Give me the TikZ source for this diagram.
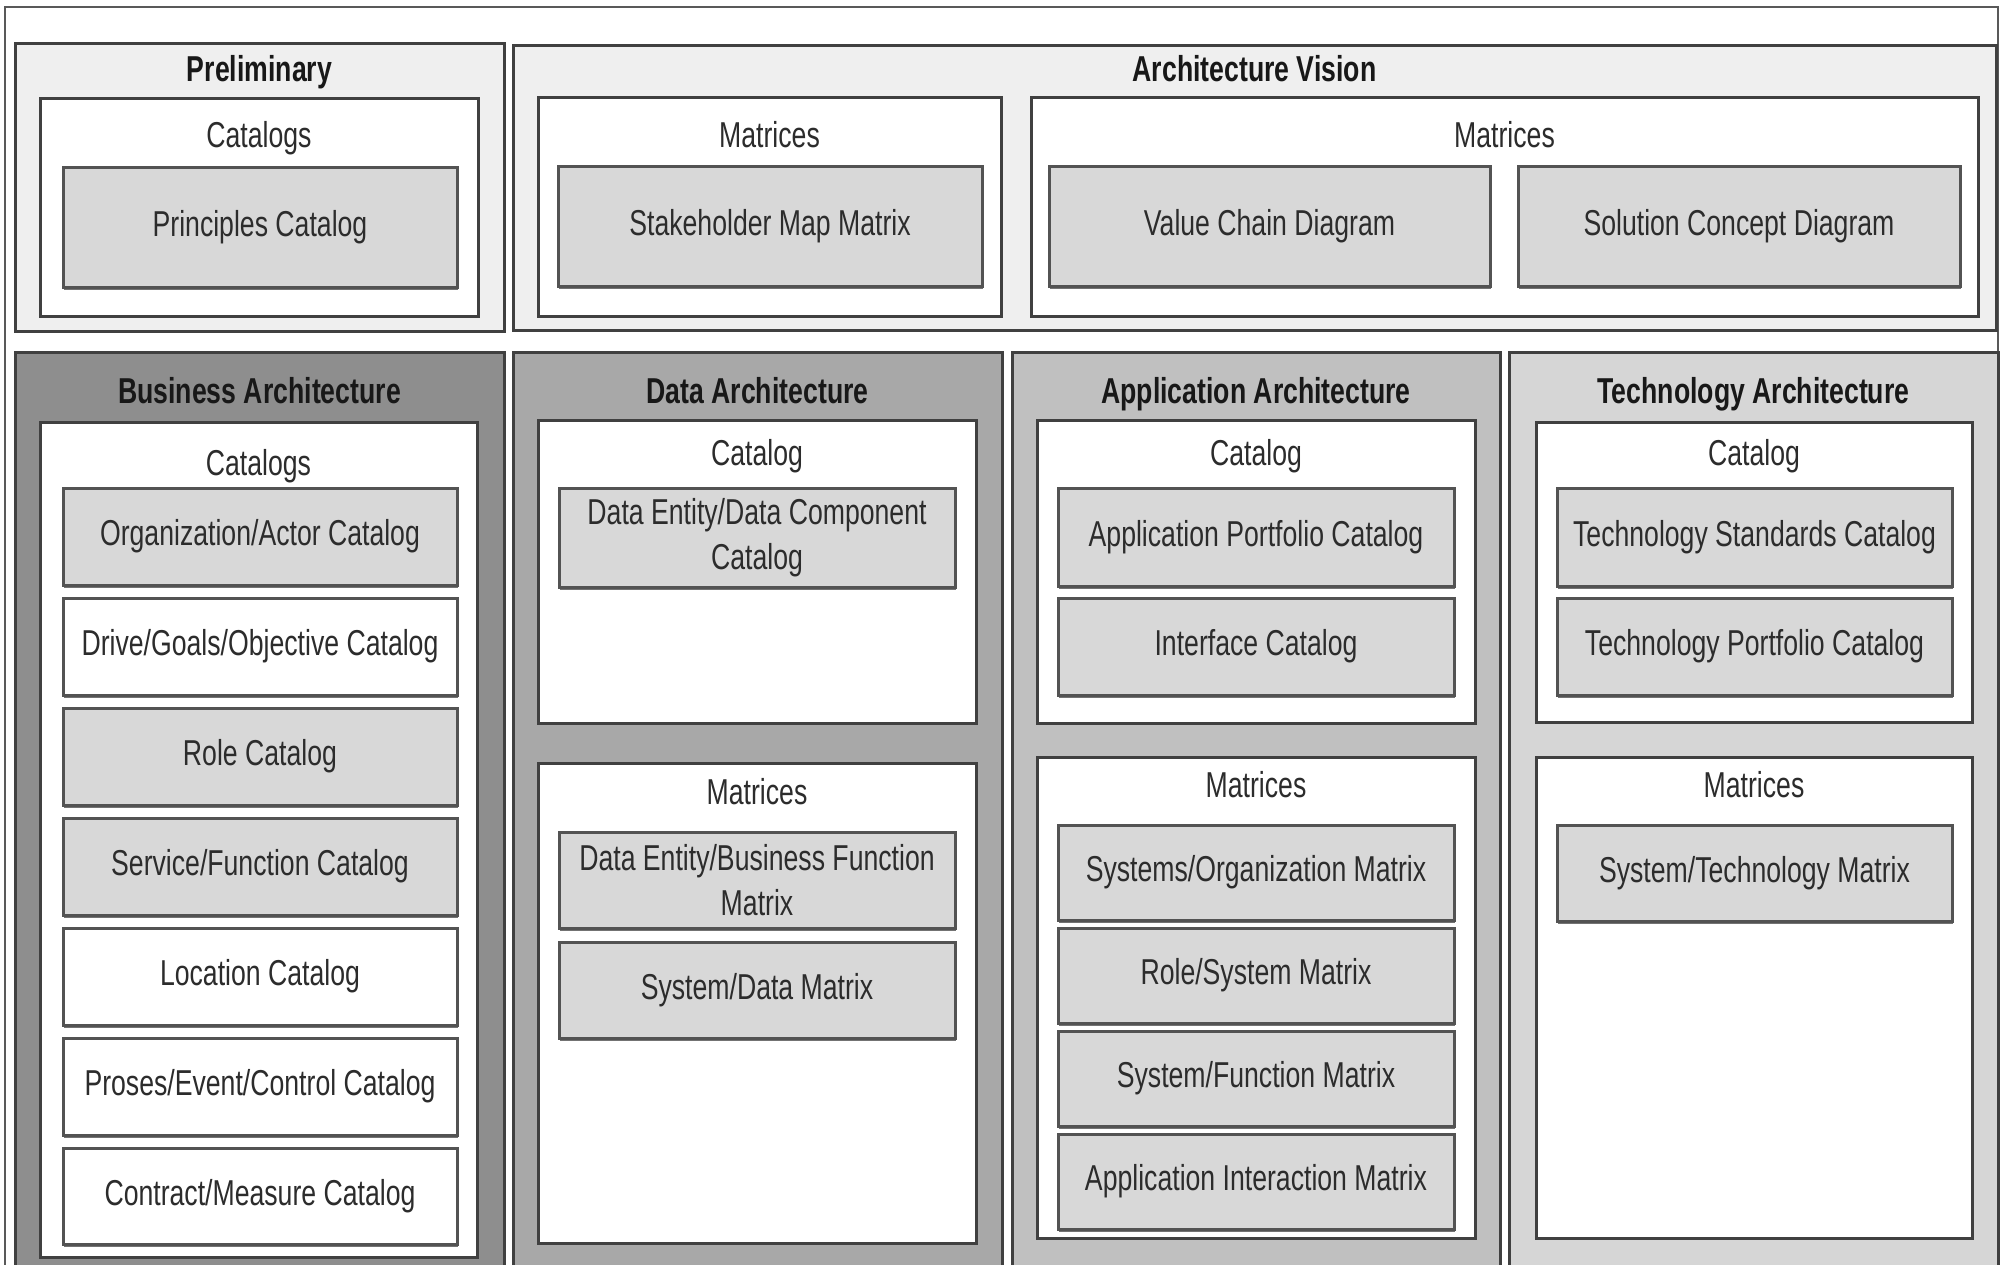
\documentclass[tikz,border=0pt]{standalone}
\usepackage{fontspec}
\setmainfont{Liberation Sans}[FakeStretch=0.74]
\usetikzlibrary{shadows}
\definecolor{edge}{HTML}{404040}
\definecolor{txt}{HTML}{2C2C2C}
\definecolor{headtxt}{HTML}{181818}
\definecolor{itemgray}{HTML}{D8D8D8}
\definecolor{lightpanel}{HTML}{EFEFEF}
\definecolor{busfill}{HTML}{8E8E8E}
\definecolor{datafill}{HTML}{A8A8A8}
\definecolor{appfill}{HTML}{C0C0C0}
\definecolor{techfill}{HTML}{D6D6D6}
\newcommand\itemfont{\fontsize{36}{45}\selectfont}
\newcommand\headfont{\fontsize{36}{45}\selectfont\bfseries}
\newcommand\rbox[7]{\node[#1, minimum width={#5-#3}, minimum height={#6-#4}] (#2) at ({(#3+#5)/2},{(#4+#6)/2}) {#7};}
\tikzset{
  frame/.style={draw=edge, line width=3pt, inner sep=0pt, rectangle},
  panel/.style={frame, fill=#1},
  wbox/.style={frame, fill=white},
  item/.style={frame, draw=edge!90, fill=itemgray, text=txt, font=\itemfont, align=center,
    drop shadow={shadow xshift=0.5pt, shadow yshift=-3pt, fill=black!55, opacity=1}},
  witem/.style={item, fill=white},
  lbl/.style={text=txt, font=\itemfont, inner sep=0pt, text height=26pt, text depth=0pt},
  head/.style={text=headtxt, font=\headfont, inner sep=0pt, text height=26pt, text depth=0pt},
}
\begin{document}
\begin{tikzpicture}[x=1pt,y=-1pt]
\path[use as bounding box, clip] (0,0) rectangle (2005,1264);
\fill[white] (0,0) rectangle (2005,1264);
% outer frame
\rbox{frame, draw=black!65, line width=2.5pt, fill=white}{outer}{5}{7}{1998}{1320}{}
% Preliminary
\rbox{panel=lightpanel}{prelim}{15}{43}{504}{331}{}
\node[head] (prelimT) at (259.5,68) {Preliminary};
\rbox{wbox}{prelimCat}{40}{98}{478}{316}{}
\node[lbl] (prelimCatT) at (259,134) {Catalogs};
\rbox{item}{principles}{63}{167}{457}{287}{Principles Catalog}
% Architecture Vision
\rbox{panel=lightpanel}{vision}{513}{45}{1996}{330}{}
\node[head] (visionT) at (1254.5,68) {Architecture Vision};
\rbox{wbox}{visMatA}{538}{97}{1001}{316}{}
\node[lbl] (visMatAT) at (769.5,134) {Matrices};
\rbox{item}{stakeholder}{558}{166}{982}{286}{Stakeholder Map Matrix}
\rbox{wbox}{visMatB}{1031}{97}{1978}{316}{}
\node[lbl] (visMatBT) at (1504.5,134) {Matrices};
\rbox{item}{valuechain}{1049}{166}{1490}{286}{Value Chain Diagram}
\rbox{item}{solution}{1518}{166}{1960}{286}{Solution Concept Diagram}
% Business Architecture
\rbox{panel=busfill}{bus}{15}{352}{504}{1320}{}
\node[head] (busT) at (259.5,390) {Business Architecture};
\rbox{wbox}{busCat}{40}{422}{477}{1257}{}
\node[lbl] (busCatT) at (258.5,462) {Catalogs};
\rbox{item}{org}{63}{488}{457}{585}{Organization/Actor Catalog}
\rbox{witem}{drive}{63}{598}{457}{695}{Drive/Goals/Objective Catalog}
\rbox{item}{role}{63}{708}{457}{805}{Role Catalog}
\rbox{item}{service}{63}{818}{457}{915}{Service/Function Catalog}
\rbox{witem}{location}{63}{928}{457}{1025}{Location Catalog}
\rbox{witem}{proses}{63}{1038}{457}{1135}{Proses/Event/Control Catalog}
\rbox{witem}{contract}{63}{1148}{457}{1244}{Contract/Measure Catalog}
% Data Architecture
\rbox{panel=datafill}{data}{513}{352}{1002}{1320}{}
\node[head] (dataT) at (757.5,390) {Data Architecture};
\rbox{wbox}{dataCat}{538}{420}{976}{723}{}
\node[lbl] (dataCatT) at (757,452) {Catalog};
\rbox{item}{dataentity}{559}{488}{955}{587}{Data Entity/Data Component\\Catalog}
\rbox{wbox}{dataMat}{538}{763}{976}{1243}{}
\node[lbl] (dataMatT) at (757,791) {Matrices};
\rbox{item}{debf}{559}{832}{955}{928}{Data Entity/Business Function\\Matrix}
\rbox{item}{sysdata}{559}{942}{955}{1038}{System/Data Matrix}
% Application Architecture
\rbox{panel=appfill}{app}{1012}{352}{1500}{1320}{}
\node[head] (appT) at (1256,390) {Application Architecture};
\rbox{wbox}{appCat}{1037}{420}{1475}{723}{}
\node[lbl] (appCatT) at (1256,452) {Catalog};
\rbox{item}{appport}{1058}{488}{1454}{586}{Application Portfolio Catalog}
\rbox{item}{interface}{1058}{598}{1454}{695}{Interface Catalog}
\rbox{wbox}{appMat}{1037}{757}{1475}{1238}{}
\node[lbl] (appMatT) at (1256,784) {Matrices};
\rbox{item}{sysorg}{1058}{825}{1454}{920}{Systems/Organization Matrix}
\rbox{item}{rolesys}{1058}{928}{1454}{1023}{Role/System Matrix}
\rbox{item}{sysfunc}{1058}{1031}{1454}{1126}{System/Function Matrix}
\rbox{item}{appinter}{1058}{1134}{1454}{1229}{Application Interaction Matrix}
% Technology Architecture
\rbox{panel=techfill}{tech}{1509}{352}{1998}{1320}{}
\node[head] (techT) at (1753.5,390) {Technology Architecture};
\rbox{wbox}{techCat}{1536}{422}{1972}{722}{}
\node[lbl] (techCatT) at (1754,452) {Catalog};
\rbox{item}{techstd}{1557}{488}{1952}{586}{Technology Standards Catalog}
\rbox{item}{techport}{1557}{598}{1952}{695}{Technology Portfolio Catalog}
\rbox{wbox}{techMat}{1536}{757}{1972}{1238}{}
\node[lbl] (techMatT) at (1754,784) {Matrices};
\rbox{item}{systech}{1557}{825}{1952}{921}{System/Technology Matrix}
\end{tikzpicture}
\end{document}
